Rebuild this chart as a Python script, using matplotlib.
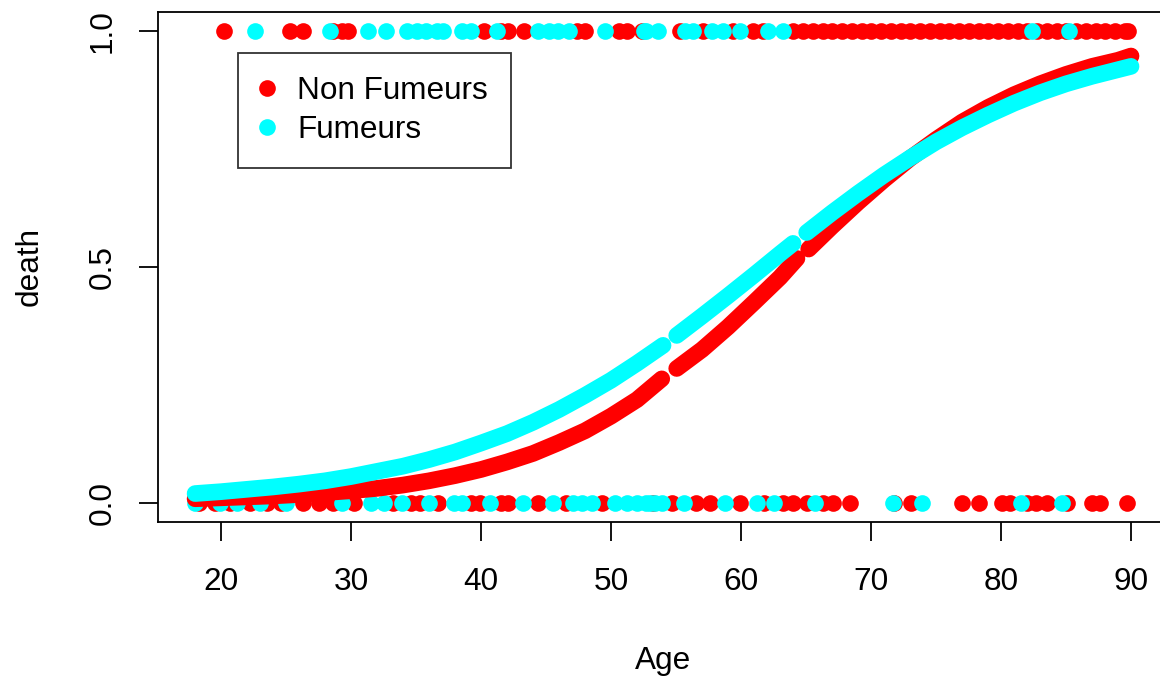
import numpy as np
import matplotlib

matplotlib.use("Agg")
from matplotlib import pyplot as plt
from matplotlib.lines import Line2D

# observed deaths (y = 1) and survivors (y = 0), by age and smoking status
dead_nonsmoker_age = [
    20.2, 25.3, 26.3, 28.6, 29.3, 29.8, 40.2, 41.5, 42.1, 43.3, 47.4, 48.0,
    50.6, 51.2, 52.4, 55.3, 57.1, 59.4, 60.9, 61.7, 64.0, 64.8, 65.5, 66.3,
    67.0, 67.8, 68.5, 69.3, 70.0, 70.8, 71.5, 72.3, 73.0, 73.8, 74.5, 75.3,
    76.0, 76.8, 77.5, 78.3, 79.0, 79.8, 80.5, 81.3, 82.0, 82.8, 83.5, 84.3,
    85.0, 85.8, 86.5, 87.3, 88.0, 88.8, 89.5, 89.8,
]
dead_smoker_age = [
    22.6, 28.4, 31.3, 32.7, 34.3, 35.1, 35.8, 36.6, 37.1, 38.5, 39.2, 41.2,
    44.4, 45.2, 45.9, 46.8, 49.5, 52.5, 52.7, 53.6, 55.7, 56.3, 57.8, 58.6,
    59.9, 62.1, 63.2, 82.4, 85.2,
]
alive_nonsmoker_age = [
    18.3, 19.5, 20.7, 22.2, 23.5, 24.6, 26.3, 27.5, 28.6, 30.2, 33.2, 34.6,
    35.3, 36.7, 39.2, 39.9, 41.5, 42.1, 44.4, 46.5, 49.3, 53.2, 54.7, 56.5,
    57.6, 59.9, 61.8, 63.2, 64.0, 65.1, 66.3, 67.1, 68.4, 71.8, 73.1, 77.0,
    78.3, 80.1, 80.7, 82.0, 82.7, 83.5, 85.1, 87.0, 87.6, 89.7,
]
alive_smoker_age = [
    18.0, 19.9, 21.2, 23.0, 25.0, 29.3, 31.5, 32.5, 33.9, 36.0, 37.9, 38.5,
    40.7, 43.2, 45.5, 47.1, 47.8, 48.5, 50.3, 51.2, 52.0, 52.7, 53.0, 53.4,
    53.9, 55.6, 58.8, 61.2, 62.5, 65.7, 71.7, 73.9, 81.5, 84.7,
]

# fitted probabilities, one list per unbroken run of the curve
fit_nonsmoker_age = [
    [18, 20, 22, 24, 26, 28, 30, 32, 34, 36, 38, 40, 42, 44, 46, 48, 50, 52, 53.9],
    [55.05, 57, 59, 61, 63, 64.3],
    [65.2, 67, 69, 71, 73, 75, 77, 79, 81, 83, 85, 87, 89, 90],
]
fit_nonsmoker_p = [
    [0.009, 0.011, 0.013, 0.015, 0.018, 0.022, 0.026, 0.031, 0.038, 0.047,
     0.058, 0.071, 0.087, 0.105, 0.128, 0.153, 0.184, 0.219, 0.263],
    [0.285, 0.325, 0.373, 0.425, 0.478, 0.518],
    [0.538, 0.586, 0.637, 0.685, 0.730, 0.770, 0.807, 0.838, 0.865, 0.888,
     0.908, 0.925, 0.938, 0.947],
]
fit_smoker_age = [
    [18, 20, 22, 24, 26, 28, 30, 32, 34, 36, 38, 40, 42, 44, 46, 48, 50, 52, 54],
    [55.05, 57, 59, 61, 63, 64],
    [65.05, 67, 69, 71, 73, 75, 77, 79, 81, 83, 85, 87, 89, 90],
]
fit_smoker_p = [
    [0.020, 0.024, 0.029, 0.034, 0.040, 0.047, 0.056, 0.067, 0.078, 0.092,
     0.108, 0.127, 0.147, 0.171, 0.198, 0.228, 0.260, 0.296, 0.334],
    [0.355, 0.396, 0.439, 0.483, 0.528, 0.550],
    [0.573, 0.615, 0.656, 0.695, 0.731, 0.765, 0.795, 0.822, 0.847, 0.869,
     0.888, 0.904, 0.918, 0.925],
]

x_ticks = [20, 30, 40, 50, 60, 70, 80, 90]
y_ticks = [0.0, 0.5, 1.0]
y_tick_labels = ["0.0", "0.5", "1.0"]
legend_labels = ["Non Fumeurs", "Fumeurs"]

RED = "#FF0000"
CYAN = "#00FFFF"
FS = 22.7
MS = 12

plt.rcParams["font.family"] = ["Liberation Sans", "DejaVu Sans"]

fig = plt.figure(figsize=(11.6, 6.76), dpi=100)
ax = fig.add_axes([0.1359, 0.228, 0.8714, 0.7541])

ax.plot(dead_nonsmoker_age, np.ones(len(dead_nonsmoker_age)), "o", color=RED,
        ms=MS, mew=0, zorder=2)
ax.plot(alive_nonsmoker_age, np.zeros(len(alive_nonsmoker_age)), "o", color=RED,
        ms=MS, mew=0, zorder=2)
ax.plot(dead_smoker_age, np.ones(len(dead_smoker_age)), "o", color=CYAN,
        ms=MS, mew=0, zorder=3)
ax.plot(alive_smoker_age, np.zeros(len(alive_smoker_age)), "o", color=CYAN,
        ms=MS, mew=0, zorder=3)

for ages, probs in zip(fit_nonsmoker_age, fit_nonsmoker_p):
    ax.plot(ages, probs, color=RED, lw=MS, solid_capstyle="round",
            solid_joinstyle="round", zorder=4)
for ages, probs in zip(fit_smoker_age, fit_smoker_p):
    ax.plot(ages, probs, color=CYAN, lw=MS, solid_capstyle="round",
            solid_joinstyle="round", zorder=5)

ax.set_xlim(15.12, 92.88)
ax.set_ylim(-0.04, 1.04)
ax.set_xticks(x_ticks)
ax.set_yticks(y_ticks)
ax.set_yticklabels(y_tick_labels, rotation=90, va="center")
ax.tick_params(axis="both", direction="out", length=14, width=1.3,
               labelsize=FS, color="black")
ax.tick_params(axis="x", pad=18.5)
ax.tick_params(axis="y", pad=15)
for spine in ax.spines.values():
    spine.set_linewidth(1.3)

ax.set_xlabel("Age", fontsize=FS, labelpad=35)
ax.set_ylabel("death", fontsize=FS, labelpad=31)

handles = [
    Line2D([], [], ls="none", marker="o", color=c, ms=MS, mew=0)
    for c in (RED, CYAN)
]
leg = ax.legend(
    handles, legend_labels, loc="upper left", bbox_to_anchor=(0.0795, 0.9204),
    fontsize=FS, frameon=True, fancybox=False, edgecolor="black",
    borderpad=0.73, labelspacing=0.29, handlelength=0.38, handletextpad=0.76,
    borderaxespad=0,
)
leg.get_frame().set_linewidth(1.3)

fig.savefig("out.png", dpi=100)
